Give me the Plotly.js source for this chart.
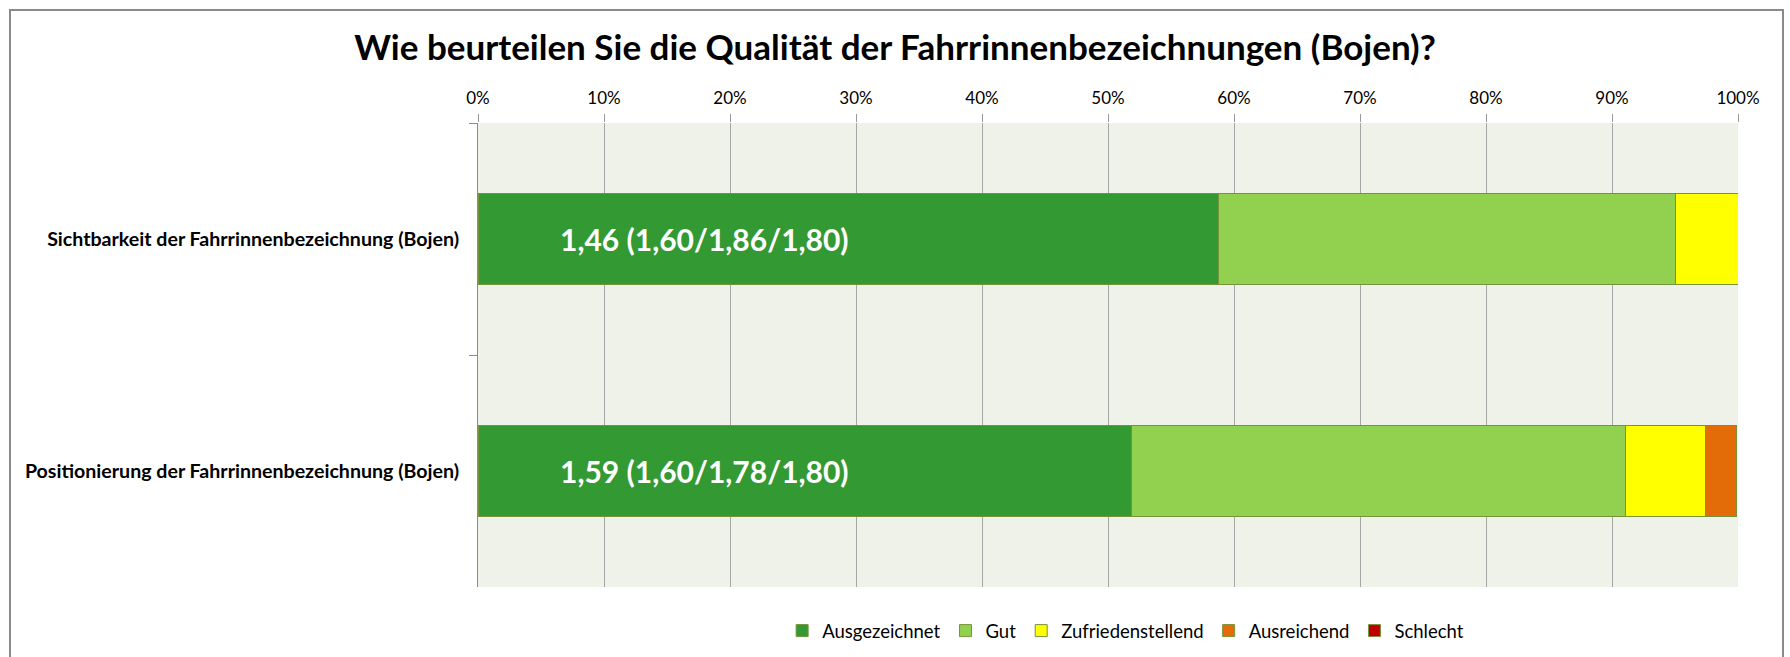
<!DOCTYPE html>
<html>
<head>
<meta charset="utf-8">
<script src="https://cdn.plot.ly/plotly-3.0.1.min.js"></script>
<style>
  html, body { margin: 0; padding: 0; background: #fff; }
  #wrap { position: relative; width: 1790px; height: 657px; overflow: hidden; }
  #chart { position: absolute; left: 0; top: 0; width: 1790px; height: 657px; }
  #frame { position: absolute; left: 9px; top: 9px; width: 1775px; height: 700px;
           border: 2px solid #8a8a8a; pointer-events: none; box-sizing: border-box; }
</style>
</head>
<body>
<div id="wrap">
  <div id="chart"></div>
  <div id="frame"></div>
</div>
<script>
const titleText = "Wie beurteilen Sie die Qualität der Fahrrinnenbezeichnungen (Bojen)?";
const categories = [
  "Sichtbarkeit der Fahrrinnenbezeichnung (Bojen)",
  "Positionierung der Fahrrinnenbezeichnung (Bojen)"
];
const seriesNames = ["Ausgezeichnet", "Gut", "Zufriedenstellend", "Ausreichend", "Schlecht"];
const ausgezeichnet = [58.75, 51.9];
const gut = [36.25, 39.2];
const zufriedenstellend = [5.0, 6.3];
const ausreichend = [0, 2.5];
const schlecht = [0, 0];
const barLabels = ["1,46 (1,60/1,86/1,80)", "1,59 (1,60/1,78/1,80)"];
const tickVals = [0, 10, 20, 30, 40, 50, 60, 70, 80, 90, 100];

const colors = ["#339933", "#92D050", "#FFFF00", "#E36C09", "#C00000"];
const allSeries = [ausgezeichnet, gut, zufriedenstellend, ausreichend, schlecht];
const FONT = "Lato, 'Open Sans', sans-serif";

const traces = allSeries.map((vals, i) => ({
  type: "bar",
  orientation: "h",
  name: seriesNames[i],
  y: categories,
  x: vals,
  marker: { color: colors[i], line: { color: "#77933C", width: 1 } },
  hoverinfo: "x+name"
}));

const annotations = barLabels.map((t, i) => ({
  xref: "paper", yref: "y",
  x: 0.0635, y: categories[i],
  xanchor: "left", yanchor: "middle",
  text: "<b>" + t + "</b>",
  showarrow: false,
  font: { family: FONT, size: 30, color: "#ffffff" }
}));

const layout = {
  width: 1790, height: 657,
  paper_bgcolor: "#ffffff",
  plot_bgcolor: "#EFF2E9",
  margin: { l: 478, r: 52, t: 123, b: 70, pad: 0, autoexpand: false },
  barmode: "stack",
  bargap: 0.61,
  title: {
    text: "<b>" + titleText + "</b>",
    font: { family: FONT, size: 35, color: "#000000" },
    x: 0.5, xanchor: "center",
    y: 1 - 48 / 657, yanchor: "middle", yref: "container"
  },
  xaxis: {
    side: "top",
    range: [0, 100],
    tickvals: tickVals,
    ticktext: tickVals.map(v => v + "%"),
    ticks: "outside", ticklen: 8, tickcolor: "#999999", tickwidth: 1,
    showgrid: true, gridcolor: "#A6A6A6", gridwidth: 1,
    showline: false, zeroline: false,
    tickfont: { family: FONT, size: 17, color: "#000000" },
    ticklabelstandoff: 3,
    fixedrange: true
  },
  yaxis: {
    type: "category",
    autorange: "reversed",
    tickson: "boundaries",
    ticks: "outside", ticklen: 8, tickcolor: "#8a8a8a", tickwidth: 1,
    showline: true, linecolor: "#8a8a8a", linewidth: 1,
    showgrid: false, zeroline: false,
    tickfont: { family: FONT, size: 19.6, color: "#000000", weight: "bold" },
    ticklabelstandoff: 14,
    fixedrange: true
  },
  showlegend: true,
  legend: {
    orientation: "h",
    x: 0.514, xanchor: "center",
    y: -0.095, yanchor: "middle",
    font: { family: FONT, size: 18.5, color: "#000000" },
    itemwidth: 30,
    traceorder: "normal",
    bgcolor: "rgba(0,0,0,0)"
  },
  annotations: annotations
};

Plotly.newPlot("chart", traces, layout, { displayModeBar: false, staticPlot: true });
</script>
</body>
</html>
